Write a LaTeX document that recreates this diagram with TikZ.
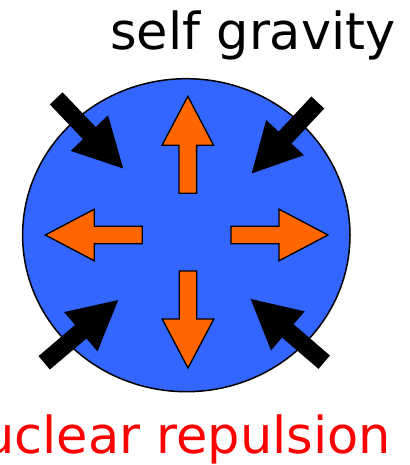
\documentclass[tikz,border=0pt]{standalone}
\usepackage{fontspec}
\setmainfont{DejaVu Sans}
\definecolor{starblue}{HTML}{3366FF}
\definecolor{pushorange}{HTML}{FF6600}
\tikzset{
  star/.style={draw=black, line width=1.5pt, fill=starblue},
  outward/.style={draw=black, line width=1.3pt, fill=pushorange, line join=miter},
  inward/.style={fill=black},
  label text/.style={font=\fontsize{51}{60}\selectfont, inner sep=0pt},
  pics/force/.style={code={
    \path[#1] (0,-8.8) -- (48,-8.8) -- (48,-25.8) -- (97,0)
      -- (48,25.8) -- (48,8.8) -- (0,8.8) -- cycle;
  }},
}

\begin{document}
\begin{tikzpicture}[x=1pt, y=1pt]
  \useasboundingbox (0,0) rectangle (409,465);

  % The star
  \path[star] (186.3,229.8) ellipse [x radius=163.7, y radius=156.5];

  % Nuclear repulsion pushing out
  \pic[rotate=90]  at (187.8,271.7) {force=outward};
  \pic[rotate=180] at (142.3,230)   {force=outward};
  \pic             at (231,230)     {force=outward};
  \pic[rotate=-90] at (188,194)     {force=outward};

  % Self gravity pulling in
  \pic[rotate=-46.3] at (56.2,366.6)  {force=inward};
  \pic[rotate=-133]  at (317.8,362.5) {force=inward};
  \pic[rotate=40.3]  at (44.2,102.2)  {force=inward};
  \pic[rotate=139.3] at (324.2,102.8) {force=inward};

  % Labels
  \node[label text, anchor=base east] (gravity) at (396,415.7) {self gravity};
  \node[label text, anchor=base east, text=red] (repulsion) at (391,12) {nuclear repulsion};
\end{tikzpicture}
\end{document}
